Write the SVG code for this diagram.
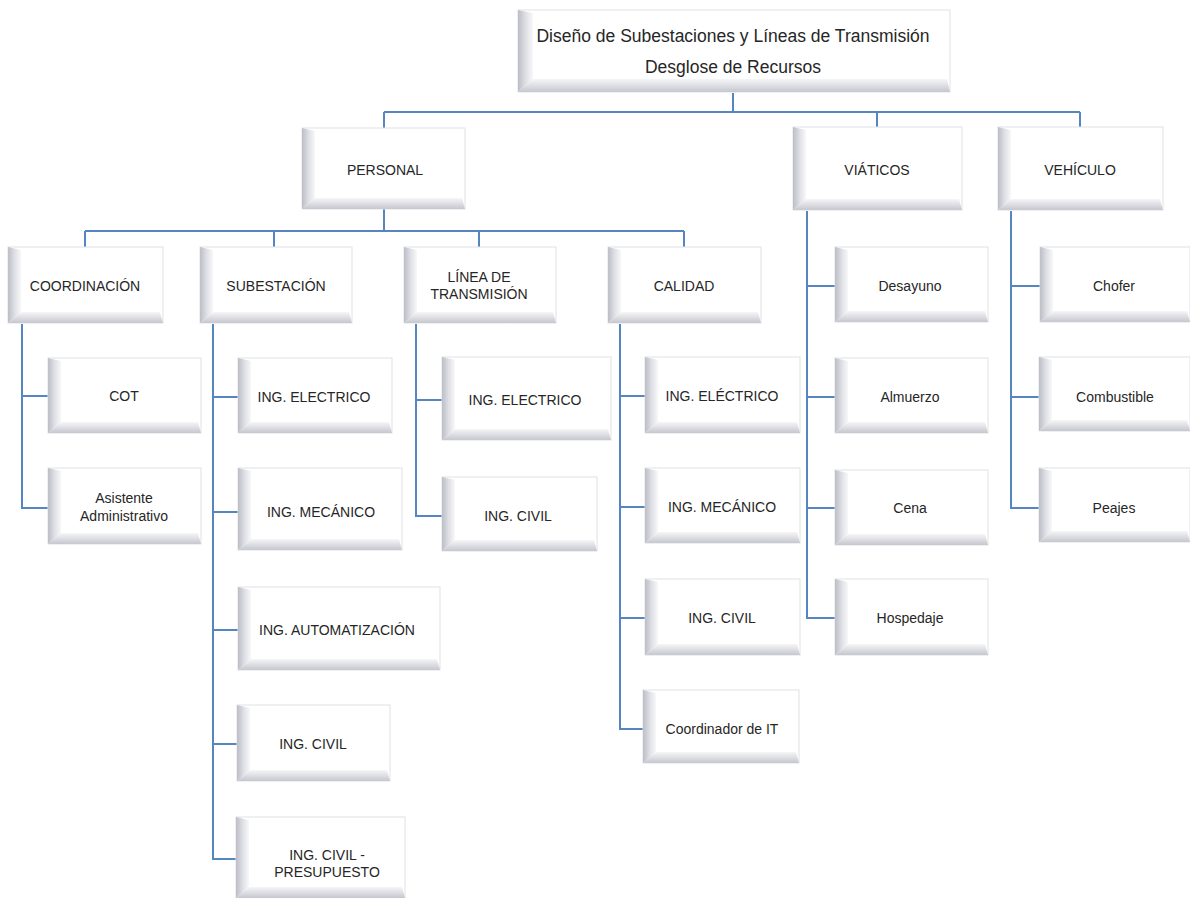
<svg xmlns="http://www.w3.org/2000/svg" width="1190" height="898" viewBox="0 0 1190 898">
  <defs>
    <linearGradient id="gl" x1="0" y1="0" x2="1" y2="0">
      <stop offset="0" stop-color="#bcbdc6"/>
      <stop offset="0.5" stop-color="#dedfe4"/>
      <stop offset="1" stop-color="#f8f8fa"/>
    </linearGradient>
    <linearGradient id="gb" x1="0" y1="0" x2="0" y2="1">
      <stop offset="0" stop-color="#f6f6f8"/>
      <stop offset="1" stop-color="#c6c7cf"/>
    </linearGradient>
    <style>
      .frame{fill:#fff;stroke:#e0e1e5;stroke-width:1}
      .bl{fill:url(#gl)}
      .bb{fill:url(#gb)}
      .lbl{font-family:"Liberation Sans",Arial,sans-serif;font-size:14px;fill:#262626;text-anchor:middle}
      .ttl{font-size:17.5px}
      #connectors path{stroke:#5586c2;stroke-width:2;fill:none}
    </style>
  </defs>
  <rect width="1190" height="898" fill="#fff"/>

  <g id="connectors">
    <path d="M733,93 V112 M384,112 H1080 M384,112 V128 M877,112 V127 M1080,112 V127"/>
    <path d="M384,209 V231 M85,231 H684 M85,231 V247 M274,231 V247 M479,231 V247 M684,231 V247"/>
    <path d="M22,324 V508 H48 M22,396 H48"/>
    <path d="M213,324 V859 H236 M213,397 H238 M213,512 H238 M213,630 H238 M213,744 H237"/>
    <path d="M416,324 V516 H442 M416,400 H442"/>
    <path d="M620,324 V729 H643 M620,396 H645 M620,507 H645 M620,618 H645"/>
    <path d="M807,211 V618 H835 M807,286 H835 M807,397 H835 M807,508 H835"/>
    <path d="M1011,211 V508 H1039 M1011,286 H1040 M1011,397 H1039"/>
  </g>

  <g id="n-title" transform="translate(518,10)">
    <rect class="frame" width="432" height="82"/>
    <path class="bl" d="M0,0 L15,3 L15,69 L0,82 Z"/>
    <path class="bb" d="M0,82 L15,69 L429,69 L432,82 Z"/>
    <text class="lbl ttl" x="215" y="32">Diseño de Subestaciones y Líneas de Transmisión</text>
    <text class="lbl ttl" x="215" y="63">Desglose de Recursos</text>
  </g>

  <g id="n-personal" transform="translate(302,128)">
    <rect class="frame" width="163" height="81"/>
    <path class="bl" d="M0,0 L13,3 L13,70 L0,81 Z"/>
    <path class="bb" d="M0,81 L13,70 L160,70 L163,81 Z"/>
    <text class="lbl" x="83" y="47">PERSONAL</text>
  </g>
  <g id="n-viaticos" transform="translate(793,127)">
    <rect class="frame" width="169" height="83"/>
    <path class="bl" d="M0,0 L13,3 L13,72 L0,83 Z"/>
    <path class="bb" d="M0,83 L13,72 L166,72 L169,83 Z"/>
    <text class="lbl" x="84" y="48">VIÁTICOS</text>
  </g>
  <g id="n-vehiculo" transform="translate(998,127)">
    <rect class="frame" width="165" height="83"/>
    <path class="bl" d="M0,0 L13,3 L13,72 L0,83 Z"/>
    <path class="bb" d="M0,83 L13,72 L162,72 L165,83 Z"/>
    <text class="lbl" x="82" y="48">VEHÍCULO</text>
  </g>

  <g id="n-coordinacion" transform="translate(8,247)">
    <rect class="frame" width="155" height="76"/>
    <path class="bl" d="M0,0 L13,3 L13,65 L0,76 Z"/>
    <path class="bb" d="M0,76 L13,65 L152,65 L155,76 Z"/>
    <text class="lbl" x="77" y="44">COORDINACIÓN</text>
  </g>
  <g id="n-subestacion" transform="translate(200,247)">
    <rect class="frame" width="152" height="76"/>
    <path class="bl" d="M0,0 L13,3 L13,65 L0,76 Z"/>
    <path class="bb" d="M0,76 L13,65 L149,65 L152,76 Z"/>
    <text class="lbl" x="76" y="44">SUBESTACIÓN</text>
  </g>
  <g id="n-linea" transform="translate(404,247)">
    <rect class="frame" width="152" height="76"/>
    <path class="bl" d="M0,0 L13,3 L13,65 L0,76 Z"/>
    <path class="bb" d="M0,76 L13,65 L149,65 L152,76 Z"/>
    <text class="lbl" x="75" y="35">LÍNEA DE</text>
    <text class="lbl" x="75" y="52">TRANSMISIÓN</text>
  </g>
  <g id="n-calidad" transform="translate(608,247)">
    <rect class="frame" width="153" height="76"/>
    <path class="bl" d="M0,0 L13,3 L13,65 L0,76 Z"/>
    <path class="bb" d="M0,76 L13,65 L150,65 L153,76 Z"/>
    <text class="lbl" x="76" y="44">CALIDAD</text>
  </g>

  <g id="n-cot" transform="translate(48,358)">
    <rect class="frame" width="153" height="75"/>
    <path class="bl" d="M0,0 L13,3 L13,64 L0,75 Z"/>
    <path class="bb" d="M0,75 L13,64 L150,64 L153,75 Z"/>
    <text class="lbl" x="76" y="43">COT</text>
  </g>
  <g id="n-asistente" transform="translate(48,468)">
    <rect class="frame" width="153" height="76"/>
    <path class="bl" d="M0,0 L13,3 L13,65 L0,76 Z"/>
    <path class="bb" d="M0,76 L13,65 L150,65 L153,76 Z"/>
    <text class="lbl" x="76" y="35">Asistente</text>
    <text class="lbl" x="76" y="53">Administrativo</text>
  </g>

  <g id="n-sub-electrico" transform="translate(238,358)">
    <rect class="frame" width="154" height="75"/>
    <path class="bl" d="M0,0 L13,3 L13,64 L0,75 Z"/>
    <path class="bb" d="M0,75 L13,64 L151,64 L154,75 Z"/>
    <text class="lbl" x="76" y="44">ING. ELECTRICO</text>
  </g>
  <g id="n-sub-mecanico" transform="translate(238,468)">
    <rect class="frame" width="164" height="82"/>
    <path class="bl" d="M0,0 L13,3 L13,71 L0,82 Z"/>
    <path class="bb" d="M0,82 L13,71 L161,71 L164,82 Z"/>
    <text class="lbl" x="83" y="49">ING. MECÁNICO</text>
  </g>
  <g id="n-sub-automatizacion" transform="translate(238,587)">
    <rect class="frame" width="202" height="83"/>
    <path class="bl" d="M0,0 L13,3 L13,72 L0,83 Z"/>
    <path class="bb" d="M0,83 L13,72 L199,72 L202,83 Z"/>
    <text class="lbl" x="99" y="48">ING. AUTOMATIZACIÓN</text>
  </g>
  <g id="n-sub-civil" transform="translate(237,705)">
    <rect class="frame" width="153" height="76"/>
    <path class="bl" d="M0,0 L13,3 L13,65 L0,76 Z"/>
    <path class="bb" d="M0,76 L13,65 L150,65 L153,76 Z"/>
    <text class="lbl" x="76" y="44">ING. CIVIL</text>
  </g>
  <g id="n-sub-presupuesto" transform="translate(236,817)">
    <rect class="frame" width="169" height="81"/>
    <path class="bl" d="M0,0 L13,3 L13,70 L0,81 Z"/>
    <path class="bb" d="M0,81 L13,70 L166,70 L169,81 Z"/>
    <text class="lbl" x="91" y="43">ING. CIVIL -</text>
    <text class="lbl" x="91" y="60">PRESUPUESTO</text>
  </g>

  <g id="n-lin-electrico" transform="translate(442,357)">
    <rect class="frame" width="169" height="83"/>
    <path class="bl" d="M0,0 L13,3 L13,72 L0,83 Z"/>
    <path class="bb" d="M0,83 L13,72 L166,72 L169,83 Z"/>
    <text class="lbl" x="83" y="48">ING. ELECTRICO</text>
  </g>
  <g id="n-lin-civil" transform="translate(442,477)">
    <rect class="frame" width="155" height="74"/>
    <path class="bl" d="M0,0 L13,3 L13,63 L0,74 Z"/>
    <path class="bb" d="M0,74 L13,63 L152,63 L155,74 Z"/>
    <text class="lbl" x="76" y="44">ING. CIVIL</text>
  </g>

  <g id="n-cal-electrico" transform="translate(645,357)">
    <rect class="frame" width="155" height="76"/>
    <path class="bl" d="M0,0 L13,3 L13,65 L0,76 Z"/>
    <path class="bb" d="M0,76 L13,65 L152,65 L155,76 Z"/>
    <text class="lbl" x="77" y="44">ING. ELÉCTRICO</text>
  </g>
  <g id="n-cal-mecanico" transform="translate(645,468)">
    <rect class="frame" width="155" height="75"/>
    <path class="bl" d="M0,0 L13,3 L13,64 L0,75 Z"/>
    <path class="bb" d="M0,75 L13,64 L152,64 L155,75 Z"/>
    <text class="lbl" x="77" y="44">ING. MECÁNICO</text>
  </g>
  <g id="n-cal-civil" transform="translate(645,579)">
    <rect class="frame" width="155" height="76"/>
    <path class="bl" d="M0,0 L13,3 L13,65 L0,76 Z"/>
    <path class="bb" d="M0,76 L13,65 L152,65 L155,76 Z"/>
    <text class="lbl" x="77" y="44">ING. CIVIL</text>
  </g>
  <g id="n-cal-it" transform="translate(643,690)">
    <rect class="frame" width="156" height="73"/>
    <path class="bl" d="M0,0 L13,3 L13,62 L0,73 Z"/>
    <path class="bb" d="M0,73 L13,62 L153,62 L156,73 Z"/>
    <text class="lbl" x="79" y="44">Coordinador de IT</text>
  </g>

  <g id="n-desayuno" transform="translate(835,247)">
    <rect class="frame" width="153" height="75"/>
    <path class="bl" d="M0,0 L13,3 L13,64 L0,75 Z"/>
    <path class="bb" d="M0,75 L13,64 L150,64 L153,75 Z"/>
    <text class="lbl" x="75" y="44">Desayuno</text>
  </g>
  <g id="n-almuerzo" transform="translate(835,358)">
    <rect class="frame" width="153" height="75"/>
    <path class="bl" d="M0,0 L13,3 L13,64 L0,75 Z"/>
    <path class="bb" d="M0,75 L13,64 L150,64 L153,75 Z"/>
    <text class="lbl" x="75" y="44">Almuerzo</text>
  </g>
  <g id="n-cena" transform="translate(835,470)">
    <rect class="frame" width="153" height="75"/>
    <path class="bl" d="M0,0 L13,3 L13,64 L0,75 Z"/>
    <path class="bb" d="M0,75 L13,64 L150,64 L153,75 Z"/>
    <text class="lbl" x="75" y="43">Cena</text>
  </g>
  <g id="n-hospedaje" transform="translate(835,579)">
    <rect class="frame" width="153" height="76"/>
    <path class="bl" d="M0,0 L13,3 L13,65 L0,76 Z"/>
    <path class="bb" d="M0,76 L13,65 L150,65 L153,76 Z"/>
    <text class="lbl" x="75" y="44">Hospedaje</text>
  </g>

  <g id="n-chofer" transform="translate(1040,247)">
    <rect class="frame" width="150" height="75"/>
    <path class="bl" d="M0,0 L13,3 L13,64 L0,75 Z"/>
    <path class="bb" d="M0,75 L13,64 L147,64 L150,75 Z"/>
    <text class="lbl" x="74" y="44">Chofer</text>
  </g>
  <g id="n-combustible" transform="translate(1039,357)">
    <rect class="frame" width="151" height="74"/>
    <path class="bl" d="M0,0 L13,3 L13,63 L0,74 Z"/>
    <path class="bb" d="M0,74 L13,63 L148,63 L151,74 Z"/>
    <text class="lbl" x="76" y="45">Combustible</text>
  </g>
  <g id="n-peajes" transform="translate(1039,468)">
    <rect class="frame" width="151" height="74"/>
    <path class="bl" d="M0,0 L13,3 L13,63 L0,74 Z"/>
    <path class="bb" d="M0,74 L13,63 L148,63 L151,74 Z"/>
    <text class="lbl" x="75" y="45">Peajes</text>
  </g>
</svg>
